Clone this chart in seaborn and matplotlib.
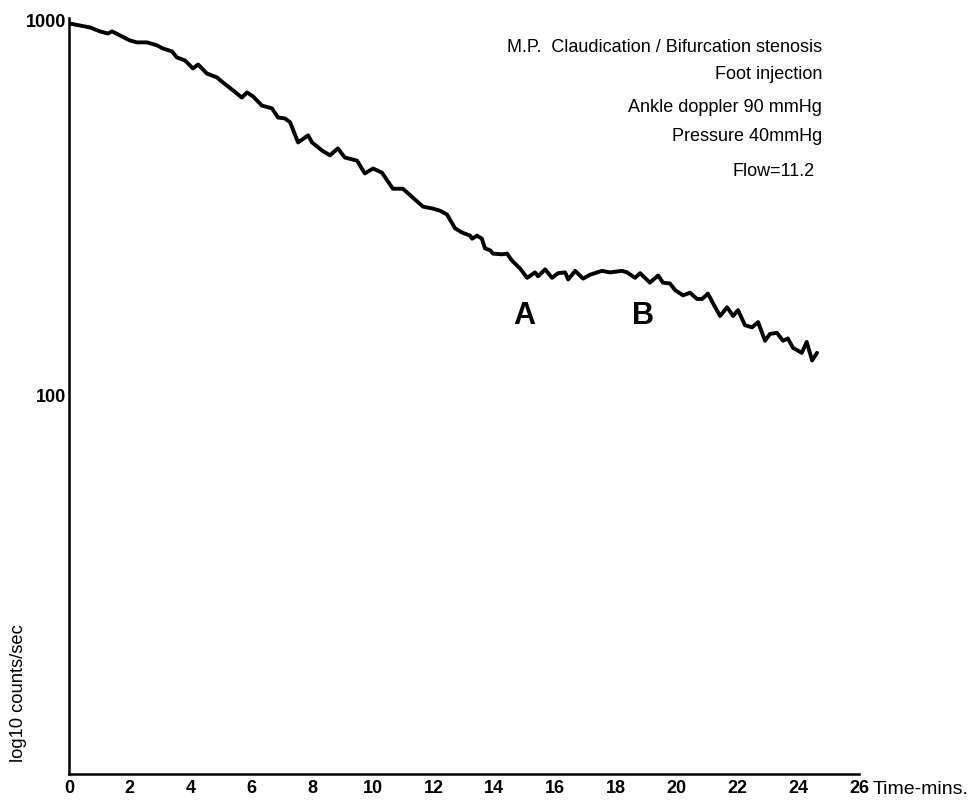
import matplotlib
matplotlib.use("Agg")
import matplotlib.pyplot as plt
from matplotlib.ticker import NullLocator, FixedLocator, FixedFormatter
import seaborn as sns
import pandas as pd

# Time after injection (minutes) and count rate (counts/sec)
time_min = [0.00, 0.69, 1.02, 1.28, 1.42, 1.68, 2.01, 2.24, 2.57, 2.90,
            3.09, 3.39, 3.55, 3.82, 4.08, 4.25, 4.54, 4.87, 5.07, 5.40,
            5.69, 5.86, 6.06, 6.35, 6.68, 6.88, 7.11, 7.28, 7.54, 7.87,
            8.00, 8.33, 8.59, 8.85, 9.08, 9.48, 9.74, 10.01, 10.30, 10.66,
            10.99, 11.32, 11.65, 11.98, 12.21, 12.44, 12.71, 12.94, 13.20, 13.27,
            13.43, 13.59, 13.69, 13.86, 13.96, 14.25, 14.42, 14.58, 14.85, 15.08,
            15.34, 15.44, 15.67, 15.90, 16.10, 16.33, 16.43, 16.66, 16.92, 17.15,
            17.54, 17.81, 18.20, 18.37, 18.63, 18.80, 19.12, 19.39, 19.55, 19.78,
            19.95, 20.21, 20.44, 20.67, 20.84, 21.03, 21.20, 21.43, 21.66, 21.86,
            22.02, 22.25, 22.48, 22.68, 22.91, 23.07, 23.30, 23.50, 23.66, 23.83,
            24.12, 24.28, 24.46, 24.62]
counts = [982, 958, 935, 923, 935, 912, 884, 874, 874, 858,
          842, 827, 797, 782, 745, 763, 722, 705, 683, 651,
          623, 643, 627, 593, 583, 551, 548, 535, 473, 494,
          473, 450, 437, 456, 431, 423, 391, 403, 393, 356,
          356, 337, 319, 315, 311, 304, 279, 272, 267, 262,
          267, 262, 247, 244, 239, 238, 239, 229, 218, 206,
          213, 208, 217, 206, 212, 213, 204, 215, 205, 210,
          215, 213, 215, 213, 206, 212, 200, 209, 200, 199,
          191, 185, 188, 181, 181, 187, 176, 163, 172, 163,
          169, 154, 152, 157, 140, 146, 147, 140, 142, 134,
          130, 139, 124, 130]

x_ticks = [0, 2, 4, 6, 8, 10, 12, 14, 16, 18, 20, 22, 24, 26]
y_ticks = [100, 1000]
y_tick_labels = ["100", "1000"]

info_lines = ["M.P.  Claudication / Bifurcation stenosis",
              "Foot injection",
              "Ankle doppler 90 mmHg",
              "Pressure 40mmHg",
              "Flow=11.2"]
phase_labels = ["A", "B"]
phase_times = [15.0, 18.9]
phase_level = 163

sns.set_style("white")
plt.rcParams["font.family"] = ["Liberation Sans", "DejaVu Sans"]

fig = plt.figure(figsize=(9.70, 8.01), dpi=100)
ax = fig.add_axes([0.0711, 0.0337, 0.8144, 0.9438])

df = pd.DataFrame({"t": time_min, "c": counts})
sns.lineplot(data=df, x="t", y="c", ax=ax, color="black", linewidth=2.8)

ax.set_yscale("log")
ax.set_xlim(0, 26)
ax.set_ylim(9.8, 1015)

ax.xaxis.set_major_locator(FixedLocator(x_ticks))
ax.yaxis.set_major_locator(FixedLocator(y_ticks))
ax.yaxis.set_major_formatter(FixedFormatter(y_tick_labels))
ax.yaxis.set_minor_locator(NullLocator())
ax.xaxis.set_minor_locator(NullLocator())

ax.tick_params(axis="both", direction="in", length=5, width=1.6,
               labelsize=13, colors="black", pad=4)
ax.tick_params(axis="y", pad=2)
for lbl in ax.get_xticklabels() + ax.get_yticklabels():
    lbl.set_fontweight("bold")

for side in ["top", "right"]:
    ax.spines[side].set_visible(False)
for side in ["left", "bottom"]:
    ax.spines[side].set_color("black")
    ax.spines[side].set_linewidth(1.8)

ax.set_xlabel("")
ax.set_ylabel("")

# axis titles
ax.text(26.45, -0.009, "Time-mins.", transform=ax.get_xaxis_transform(),
        ha="left", va="top", fontsize=14, color="black")
fig.text(0.019, 0.049, "log10 counts/sec", rotation=90, ha="center",
         va="bottom", fontsize=13.2, color="black")

# case description
info_y = [0.9413, 0.9064, 0.8664, 0.8290, 0.7853]
info_x = [0.8474, 0.8474, 0.8474, 0.8474, 0.8400]
for txt, xx, yy in zip(info_lines, info_x, info_y):
    fig.text(xx, yy, txt, ha="right", va="center", fontsize=13, color="black")

# phase markers
for lab, tt in zip(phase_labels, phase_times):
    ax.text(tt, phase_level, lab, ha="center", va="center", fontsize=22,
            fontweight="bold", color="black")

fig.savefig("out.png", dpi=100, facecolor="white")
